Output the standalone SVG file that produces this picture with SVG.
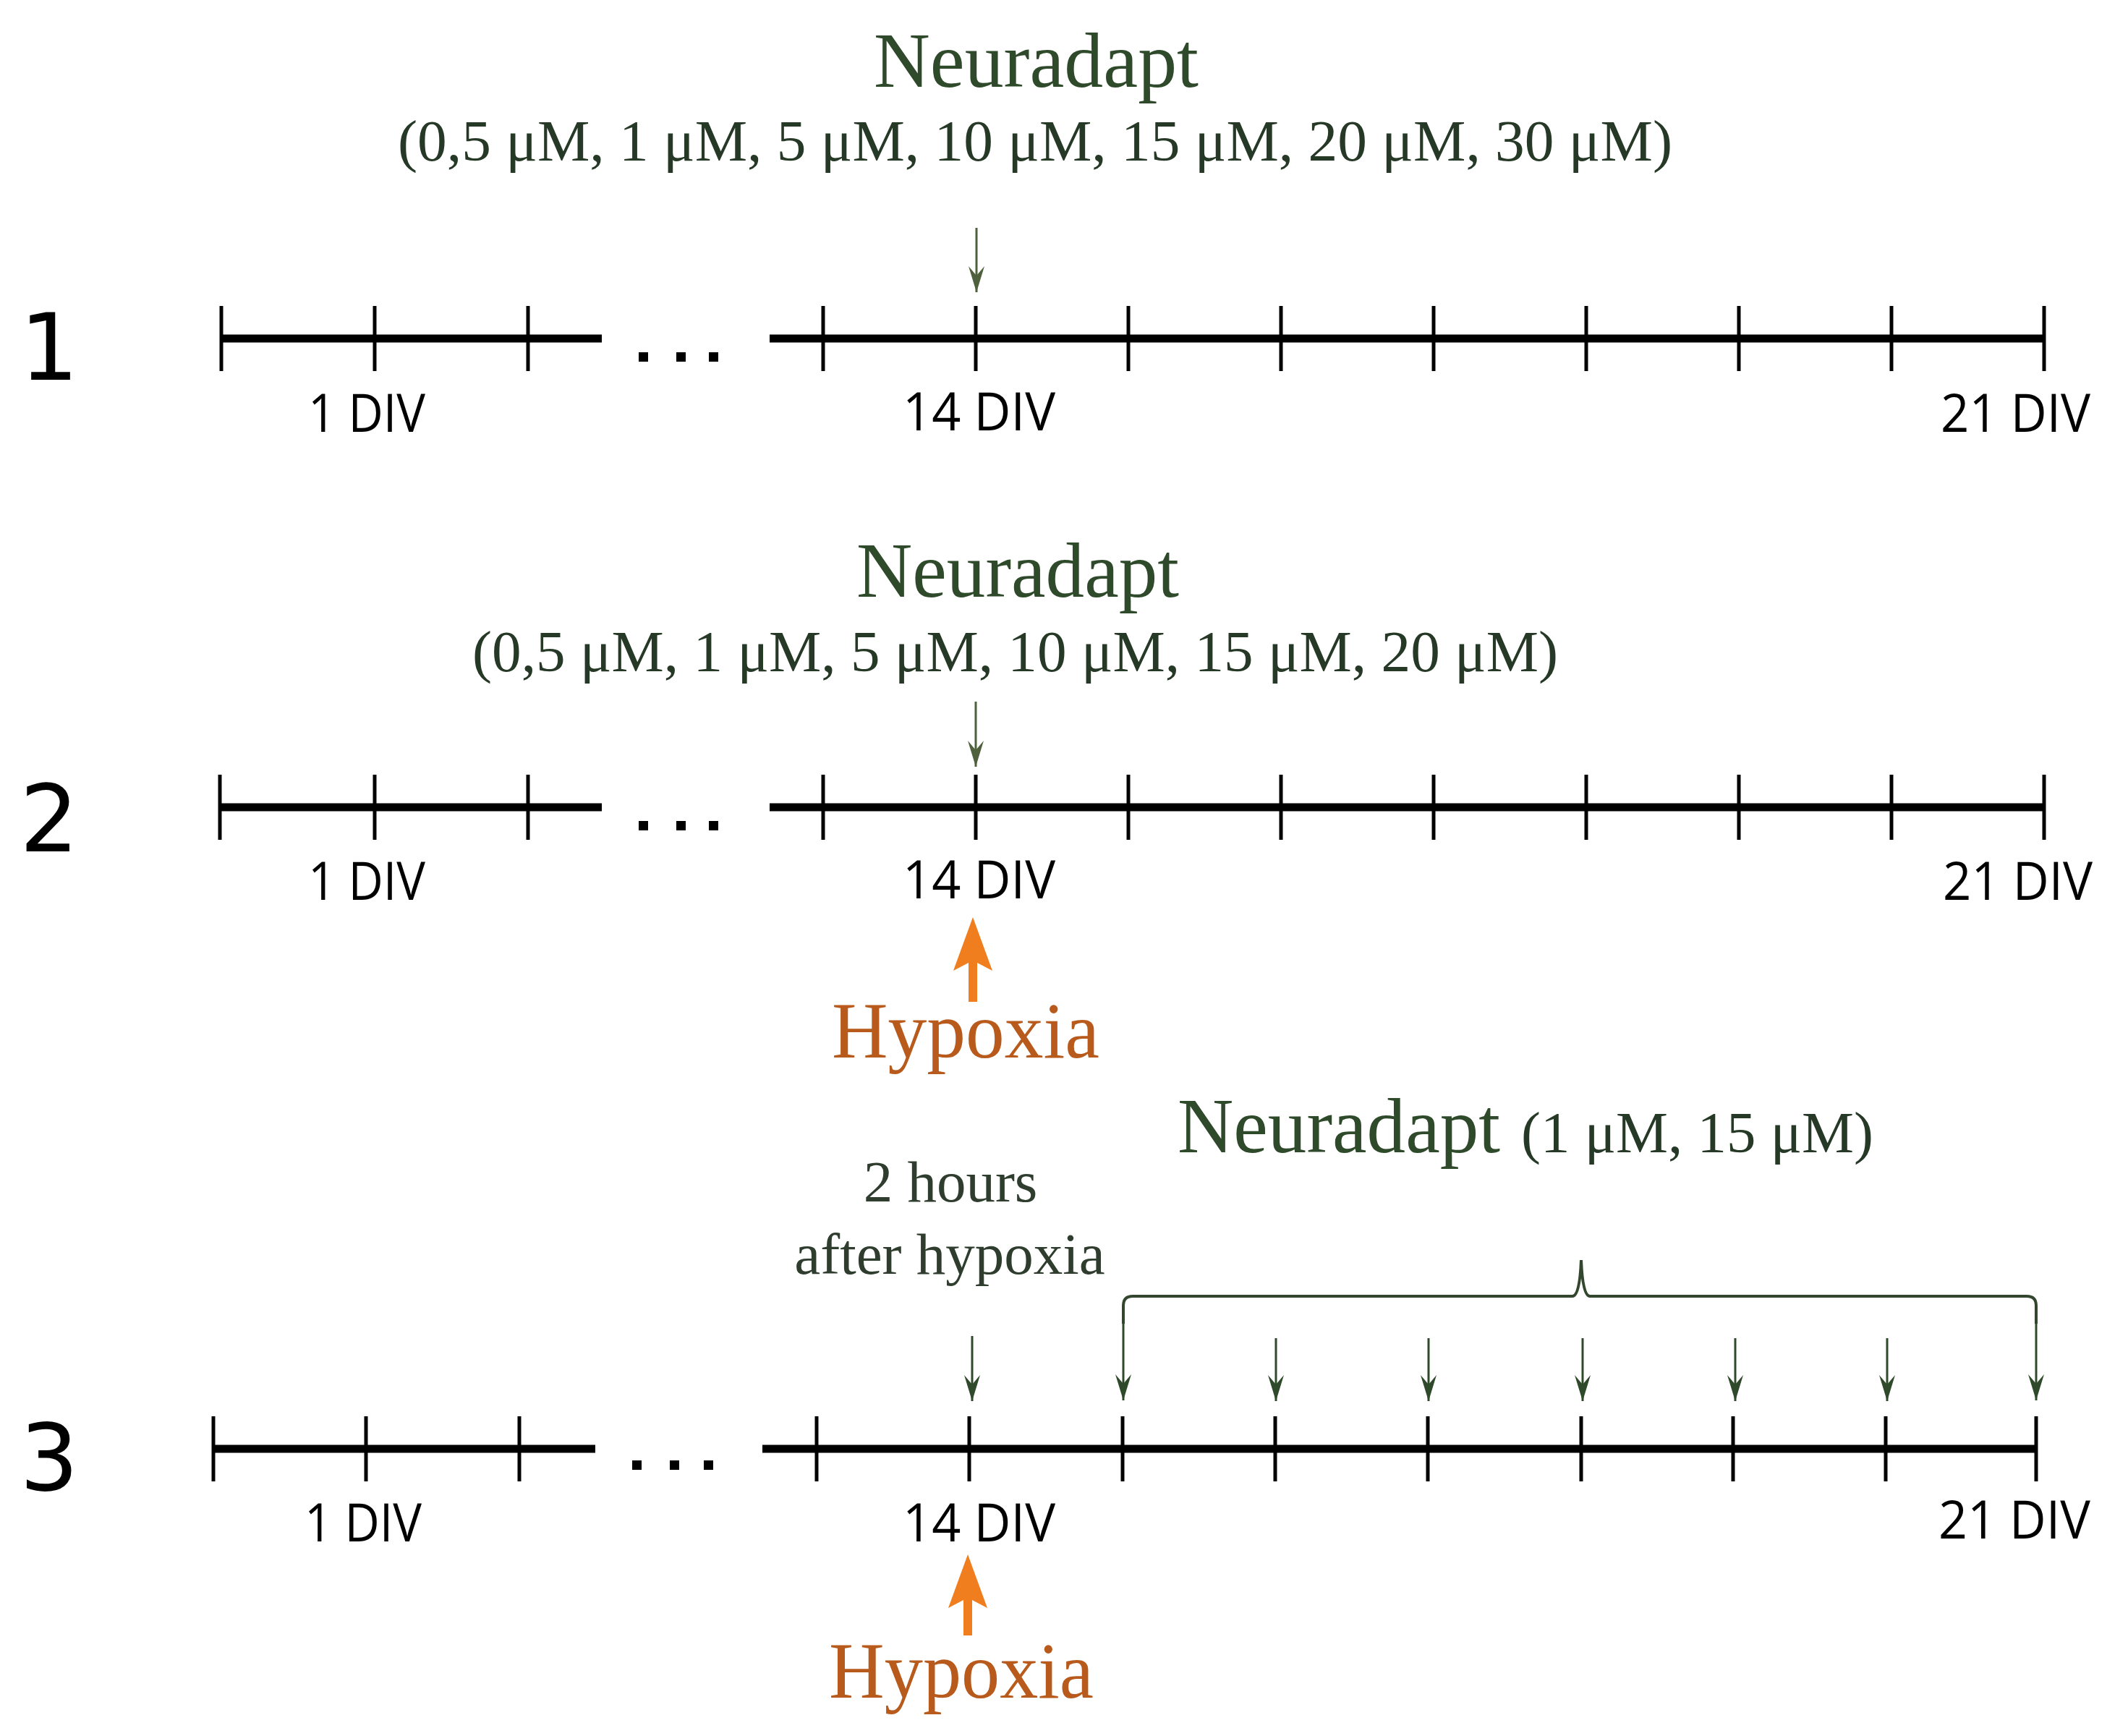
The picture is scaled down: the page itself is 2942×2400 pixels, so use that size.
<svg xmlns="http://www.w3.org/2000/svg" width="2942" height="2400" viewBox="0 0 2942 2400">
<style>
.bg{fill:#ffffff}
.axis{stroke:#000;stroke-width:11;fill:none}
.tick{stroke:#000;stroke-width:5;fill:none}
.dot{fill:#000}
.num{font-family:"DejaVu Sans",sans-serif;font-size:128px;fill:#000;text-anchor:middle}
.div{font-family:"Open Sans",sans-serif;font-size:74px;fill:#000}
.title{font-family:"Liberation Serif",serif;font-size:108px;fill:#2e4a2a}
.conc{font-family:"Liberation Serif",serif;font-size:80px;fill:#263826}
.note{font-family:"Liberation Serif",serif;font-size:81px;fill:#2f3d2f;text-anchor:middle}
.hyp{font-family:"Liberation Serif",serif;font-size:110px;fill:#b85a1c}
.garrow{stroke:#4f613c;stroke-width:3;fill:none;marker-end:url(#gh)}
.garrow3{stroke:#2f4a2a;stroke-width:3;fill:none;marker-end:url(#gh3)}
.brace{stroke:#33472f;stroke-width:4;fill:none}
.oarrow{fill:#f07d1e}
</style>
<defs>
<marker id="gh" markerUnits="userSpaceOnUse" markerWidth="40" markerHeight="30" refX="36" refY="12" orient="auto">
<path d="M36,12 L0,1 L13,12 L0,23 Z" fill="#4f613c"/>
</marker>
<marker id="gh3" markerUnits="userSpaceOnUse" markerWidth="40" markerHeight="30" refX="36" refY="12" orient="auto">
<path d="M36,12 L0,1 L13,12 L0,23 Z" fill="#2f4a2a"/>
</marker>
</defs>
<rect class="bg" x="0" y="0" width="2942" height="2400"/>

<g id="timeline1">
<text class="num" x="68" y="525">1</text>
<line class="axis" x1="306" y1="468" x2="832" y2="468"/>
<line class="axis" x1="1064" y1="468" x2="2826" y2="468"/>
<g class="tick">
<line x1="306" y1="423" x2="306" y2="513"/><line x1="518" y1="423" x2="518" y2="513"/><line x1="730" y1="423" x2="730" y2="513"/>
<line x1="1138" y1="423" x2="1138" y2="513"/><line x1="1349" y1="423" x2="1349" y2="513"/><line x1="1560" y1="423" x2="1560" y2="513"/>
<line x1="1771" y1="423" x2="1771" y2="513"/><line x1="1982" y1="423" x2="1982" y2="513"/><line x1="2193" y1="423" x2="2193" y2="513"/>
<line x1="2404" y1="423" x2="2404" y2="513"/><line x1="2615" y1="423" x2="2615" y2="513"/><line x1="2826" y1="423" x2="2826" y2="513"/>
</g>
<rect class="dot" x="883" y="487" width="13" height="13"/><rect class="dot" x="935" y="487" width="13" height="13"/><rect class="dot" x="980" y="487" width="13" height="13"/>
<text class="div" x="426" y="597" textLength="162" lengthAdjust="spacingAndGlyphs">1 DIV</text>
<text class="div" x="1248" y="595" textLength="211" lengthAdjust="spacingAndGlyphs">14 DIV</text>
<text class="div" x="2683" y="597" textLength="207" lengthAdjust="spacingAndGlyphs">21 DIV</text>
<text class="title" x="1208" y="120" textLength="449" lengthAdjust="spacingAndGlyphs">Neuradapt</text>
<text class="conc" x="550" y="222" textLength="1762" lengthAdjust="spacingAndGlyphs">(0,5 μM, 1 μM, 5 μM, 10 μM, 15 μM, 20 μM, 30 μM)</text>
</g>

<g id="timeline2">
<text class="num" x="68" y="1177">2</text>
<line class="axis" x1="304" y1="1116" x2="832" y2="1116"/>
<line class="axis" x1="1064" y1="1116" x2="2826" y2="1116"/>
<g class="tick">
<line x1="304" y1="1071" x2="304" y2="1161"/><line x1="518" y1="1071" x2="518" y2="1161"/><line x1="730" y1="1071" x2="730" y2="1161"/>
<line x1="1138" y1="1071" x2="1138" y2="1161"/><line x1="1349" y1="1071" x2="1349" y2="1161"/><line x1="1560" y1="1071" x2="1560" y2="1161"/>
<line x1="1771" y1="1071" x2="1771" y2="1161"/><line x1="1982" y1="1071" x2="1982" y2="1161"/><line x1="2193" y1="1071" x2="2193" y2="1161"/>
<line x1="2404" y1="1071" x2="2404" y2="1161"/><line x1="2615" y1="1071" x2="2615" y2="1161"/><line x1="2826" y1="1071" x2="2826" y2="1161"/>
</g>
<rect class="dot" x="883" y="1135" width="13" height="13"/><rect class="dot" x="935" y="1135" width="13" height="13"/><rect class="dot" x="980" y="1135" width="13" height="13"/>
<text class="div" x="426" y="1244" textLength="162" lengthAdjust="spacingAndGlyphs">1 DIV</text>
<text class="div" x="1248" y="1242" textLength="211" lengthAdjust="spacingAndGlyphs">14 DIV</text>
<text class="div" x="2686" y="1244" textLength="207" lengthAdjust="spacingAndGlyphs">21 DIV</text>
<text class="title" x="1184" y="825" textLength="446" lengthAdjust="spacingAndGlyphs">Neuradapt</text>
<text class="conc" x="653" y="928" textLength="1501" lengthAdjust="spacingAndGlyphs">(0,5 μM, 1 μM, 5 μM, 10 μM, 15 μM, 20 μM)</text>
</g>

<g id="hypoxia2">
<path class="oarrow" d="M1345,1268 L1372,1342 L1351,1331 L1351,1385 L1339,1385 L1339,1331 L1318,1342 Z"/>
<text class="hyp" x="1150" y="1462" textLength="370" lengthAdjust="spacingAndGlyphs">Hypoxia</text>
</g>

<g id="timeline3">
<text class="num" x="68" y="2060">3</text>
<line class="axis" x1="295" y1="2003" x2="823" y2="2003"/>
<line class="axis" x1="1054" y1="2003" x2="2815" y2="2003"/>
<g class="tick">
<line x1="295" y1="1958" x2="295" y2="2048"/><line x1="506" y1="1958" x2="506" y2="2048"/><line x1="718" y1="1958" x2="718" y2="2048"/>
<line x1="1129" y1="1958" x2="1129" y2="2048"/><line x1="1340" y1="1958" x2="1340" y2="2048"/><line x1="1552" y1="1958" x2="1552" y2="2048"/>
<line x1="1763" y1="1958" x2="1763" y2="2048"/><line x1="1974" y1="1958" x2="1974" y2="2048"/><line x1="2186" y1="1958" x2="2186" y2="2048"/>
<line x1="2396" y1="1958" x2="2396" y2="2048"/><line x1="2607" y1="1958" x2="2607" y2="2048"/><line x1="2815" y1="1958" x2="2815" y2="2048"/>
</g>
<rect class="dot" x="874" y="2019" width="13" height="13"/><rect class="dot" x="926" y="2019" width="13" height="13"/><rect class="dot" x="973" y="2019" width="13" height="13"/>
<text class="div" x="421" y="2131" textLength="162" lengthAdjust="spacingAndGlyphs">1 DIV</text>
<text class="div" x="1248" y="2131" textLength="211" lengthAdjust="spacingAndGlyphs">14 DIV</text>
<text class="div" x="2680" y="2127" textLength="210" lengthAdjust="spacingAndGlyphs">21 DIV</text>
<text class="note" x="1314" y="1661">2 hours</text>
<text class="note" x="1313" y="1761">after hypoxia</text>
<text class="title" x="1628" y="1593" font-size="107" textLength="446" lengthAdjust="spacingAndGlyphs">Neuradapt</text>
<text class="conc" x="2103" y="1593" textLength="487" lengthAdjust="spacingAndGlyphs">(1 μM, 15 μM)</text>
</g>

<g id="hypoxia3">
<path class="oarrow" d="M1338,2149 L1365,2223 L1344,2212 L1344,2261 L1332,2261 L1332,2212 L1311,2223 Z"/>
<text class="hyp" x="1146" y="2347" textLength="366" lengthAdjust="spacingAndGlyphs">Hypoxia</text>
</g>

<g id="connectors">
<line class="garrow" x1="1350" y1="315" x2="1350" y2="404"/>
<line class="garrow" x1="1349" y1="970" x2="1349" y2="1060"/>
<line class="garrow3" x1="1344" y1="1847" x2="1344" y2="1937"/>
<path class="brace" d="M1553,1830 L1553,1805 Q1553,1792 1566,1792 L2174,1792 Q2184,1792 2186,1742 Q2188,1792 2198,1792 L2802,1792 Q2815,1792 2815,1805 L2815,1830"/>
<line class="garrow3" x1="1553" y1="1825" x2="1553" y2="1936"/>
<line class="garrow3" x1="2815" y1="1825" x2="2815" y2="1936"/>
<line class="garrow3" x1="1764" y1="1850" x2="1764" y2="1937"/>
<line class="garrow3" x1="1975" y1="1850" x2="1975" y2="1937"/>
<line class="garrow3" x1="2188" y1="1850" x2="2188" y2="1937"/>
<line class="garrow3" x1="2399" y1="1850" x2="2399" y2="1937"/>
<line class="garrow3" x1="2609" y1="1850" x2="2609" y2="1937"/>
</g>
</svg>
